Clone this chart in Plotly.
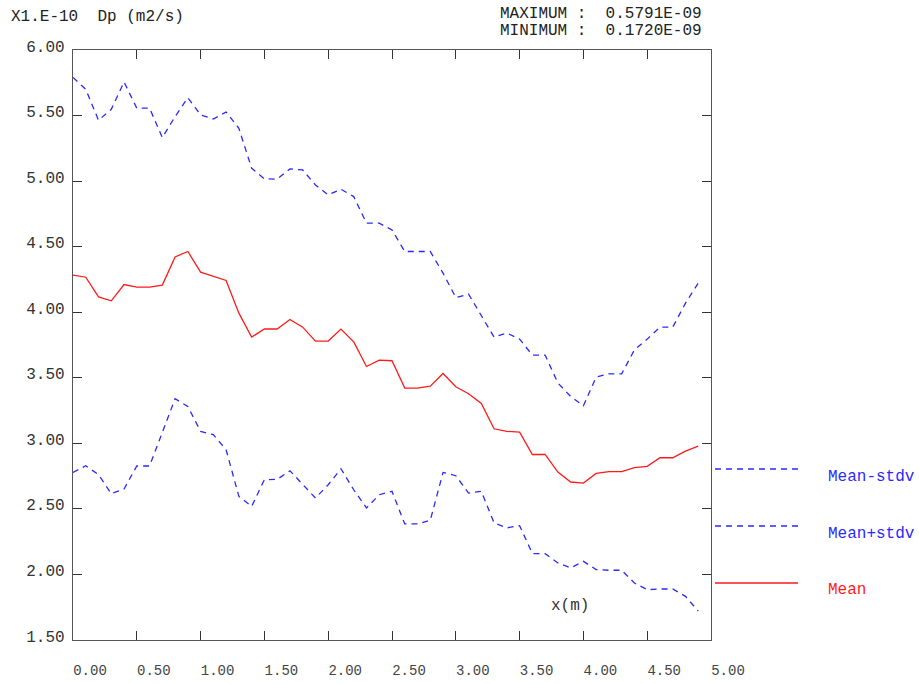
import plotly.graph_objects as go

x_m = [0.0, 0.1, 0.2, 0.3, 0.4, 0.5, 0.6, 0.7, 0.8, 0.9,
       1.0, 1.1, 1.2, 1.3, 1.4, 1.5, 1.6, 1.7, 1.8, 1.9,
       2.0, 2.1, 2.2, 2.3, 2.4, 2.5, 2.6, 2.7, 2.8, 2.9,
       3.0, 3.1, 3.2, 3.3, 3.4, 3.5, 3.6, 3.7, 3.8, 3.9,
       4.0, 4.1, 4.2, 4.3, 4.4, 4.5, 4.6, 4.7, 4.8, 4.9]

mean = [4.283, 4.267, 4.117, 4.087, 4.211, 4.191, 4.191, 4.207, 4.422, 4.463,
        4.306, 4.272, 4.242, 3.993, 3.810, 3.873, 3.872, 3.945, 3.886, 3.780,
        3.780, 3.871, 3.774, 3.586, 3.635, 3.630, 3.421, 3.421, 3.436, 3.533,
        3.431, 3.378, 3.304, 3.111, 3.091, 3.086, 2.915, 2.915, 2.781, 2.705,
        2.697, 2.771, 2.784, 2.784, 2.814, 2.824, 2.890, 2.890, 2.941, 2.979]

mean_plus = [5.791, 5.700, 5.464, 5.548, 5.756, 5.556, 5.556, 5.332, 5.492, 5.636,
             5.505, 5.474, 5.527, 5.403, 5.098, 5.017, 5.015, 5.093, 5.085, 4.971,
             4.895, 4.938, 4.882, 4.679, 4.679, 4.628, 4.463, 4.463, 4.463, 4.298,
             4.112, 4.138, 3.973, 3.810, 3.841, 3.795, 3.673, 3.673, 3.460, 3.358,
             3.287, 3.505, 3.530, 3.530, 3.713, 3.795, 3.886, 3.886, 4.069, 4.222]

mean_minus = [2.778, 2.829, 2.761, 2.616, 2.652, 2.827, 2.827, 3.078, 3.340, 3.281,
              3.091, 3.066, 2.951, 2.595, 2.519, 2.723, 2.725, 2.791, 2.684, 2.583,
              2.684, 2.806, 2.646, 2.507, 2.608, 2.634, 2.385, 2.385, 2.413, 2.778,
              2.753, 2.621, 2.634, 2.393, 2.355, 2.372, 2.159, 2.159, 2.088, 2.050,
              2.100, 2.037, 2.032, 2.032, 1.935, 1.884, 1.889, 1.889, 1.833, 1.720]

x_ticks = [0.0, 0.5, 1.0, 1.5, 2.0, 2.5, 3.0, 3.5, 4.0, 4.5, 5.0]
x_tick_labels = ["0.00", "0.50", "1.00", "1.50", "2.00", "2.50", "3.00", "3.50", "4.00", "4.50", "5.00"]
y_ticks = [1.5, 2.0, 2.5, 3.0, 3.5, 4.0, 4.5, 5.0, 5.5, 6.0]
y_tick_labels = ["1.50", "2.00", "2.50", "3.00", "3.50", "4.00", "4.50", "5.00", "5.50", "6.00"]

series_names = ["Mean-stdv", "Mean+stdv", "Mean"]
series_values = [mean_minus, mean_plus, mean]

BLUE = "#2a2aff"
RED = "#ff1a1a"
FONT = "Liberation Mono"
styles = [
    dict(color=BLUE, width=1.3, dash="6px,5px"),
    dict(color=BLUE, width=1.3, dash="6px,5px"),
    dict(color=RED, width=1.3),
]
text_colors = [BLUE, BLUE, RED]

fig = go.Figure()
for name, vals, st in zip(series_names, series_values, styles):
    fig.add_trace(go.Scatter(x=x_m, y=vals, mode="lines", name=name, line=st,
                             showlegend=False))

axis_common = dict(showline=True, linecolor="#555", linewidth=1.3, mirror="ticks",
                   ticks="inside", ticklen=9, tickcolor="#333", tickwidth=1,
                   showgrid=False, zeroline=False, automargin=False)

fig.update_xaxes(range=[0, 5], tickvals=x_ticks, ticktext=x_tick_labels,
                 ticklabelshift=17, ticklabelstandoff=17,
                 tickfont=dict(family=FONT, size=14, color="#444"), **axis_common)
fig.update_yaxes(range=[1.5, 6.0], tickvals=y_ticks, ticktext=y_tick_labels,
                 ticklabelstandoff=4, ticklabelshift=-4,
                 tickfont=dict(family=FONT, size=16, color="#333"), **axis_common)

annotations = [
    dict(text="X1.E-10\u00a0\u00a0Dp (m2/s)", x=0, y=1, xref="paper", yref="paper",
         xanchor="left", yanchor="middle", xshift=-64, yshift=33, showarrow=False,
         font=dict(family=FONT, size=16, color="#222")),
    dict(text="MAXIMUM :\u00a0\u00a00.5791E-09", x=0, y=1, xref="paper", yref="paper",
         xanchor="left", yanchor="middle", xshift=425, yshift=36, showarrow=False,
         font=dict(family=FONT, size=16, color="#222")),
    dict(text="MINIMUM :\u00a0\u00a00.1720E-09", x=0, y=1, xref="paper", yref="paper",
         xanchor="left", yanchor="middle", xshift=425, yshift=19, showarrow=False,
         font=dict(family=FONT, size=16, color="#222")),
    dict(text="x(m)", x=0, y=0, xref="paper", yref="paper",
         xanchor="left", yanchor="middle", xshift=476, yshift=34, showarrow=False,
         font=dict(family=FONT, size=16, color="#333")),
]

# legend drawn to the right of the plot
shapes = []
leg_line_y = [469, 526, 583]
leg_text_y = [477, 534, 590]
W, H = 919, 684
l, r, t, b = 73, 208, 50, 44
pw, ph = W - l - r, H - t - b
def px_to_paper(px, py):
    return (px - l) / pw, 1 - (py - t) / ph

for name, st, tc, ly, ty in zip(series_names, styles, text_colors, leg_line_y, leg_text_y):
    x0, y0 = px_to_paper(715, ly)
    x1, _ = px_to_paper(798, ly)
    line = dict(color=st["color"], width=1.3)
    if "dash" in st:
        line["dash"] = st["dash"]
    shapes.append(dict(type="line", xref="paper", yref="paper", x0=x0, x1=x1, y0=y0, y1=y0,
                       line=line))
    tx, tyy = px_to_paper(826, ty)
    annotations.append(dict(text=name, x=tx, y=tyy, xref="paper", yref="paper",
                            xanchor="left", yanchor="middle", showarrow=False,
                            font=dict(family=FONT, size=16, color=tc)))

fig.update_layout(width=W, height=H, margin=dict(l=l, r=r, t=t, b=b, autoexpand=False),
                  plot_bgcolor="white", paper_bgcolor="white",
                  annotations=annotations, shapes=shapes, showlegend=False)

fig.write_html("out.html")
